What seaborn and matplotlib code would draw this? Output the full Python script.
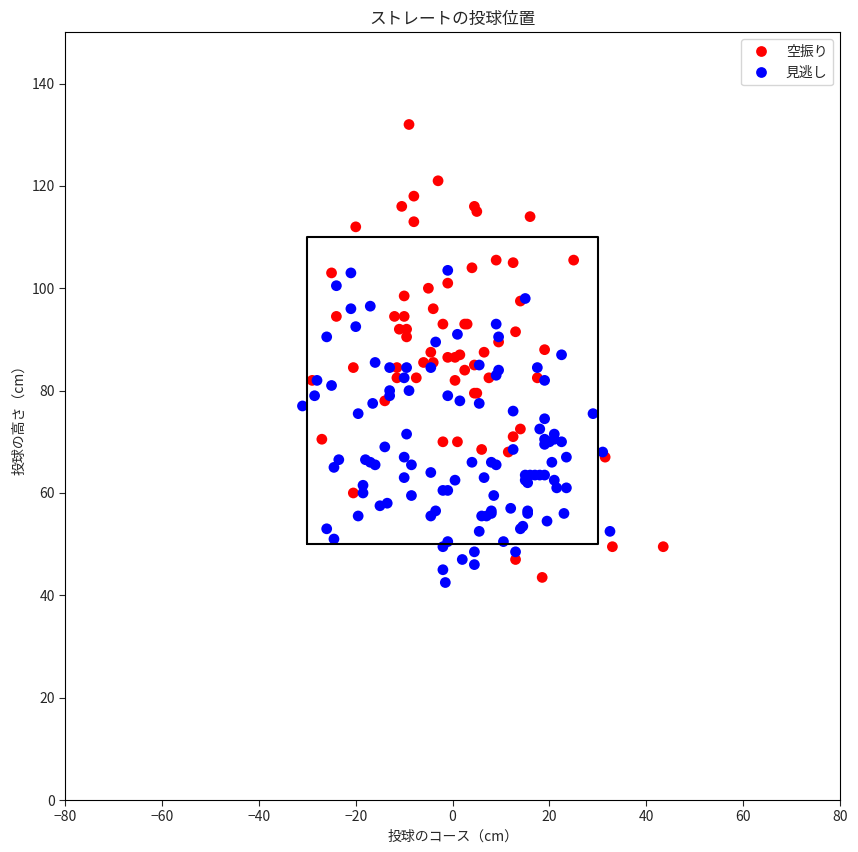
import matplotlib
matplotlib.use("Agg")
import matplotlib.pyplot as plt
import seaborn as sns
import pandas as pd

swing_x = [-9, -3, -8, 4.5, -10.5, 5, 16, -8, -20, -25, 4, 9, 12.5, 25, -24, -10, -12, -10,
           -11, -9.5, -9.5, -5, -4, -1, -2, 2.5, 3, 13, 9.5, 14, -4.5, -1, 0.5, 1.5, 6.5, 4.5,
           -6, -4, 2.5, 19, -20.5, -11.5, -11.5, -7.5, 0.5, 7.5, 17.5, -29, -14, 4.5, 5, -27,
           -2, 1, 12.5, 14, 6, 11.5, 31.5, -20.5, 13, 18.5, 33, 43.5]
swing_y = [132, 121, 118, 116, 116, 115, 114, 113, 112, 103, 104, 105.5, 105, 105.5, 94.5, 98.5,
           94.5, 94.5, 92, 92, 90.5, 100, 96, 101, 93, 93, 93, 91.5, 89.5, 97.5, 87.5, 86.5,
           86.5, 87, 87.5, 85, 85.5, 85.5, 84, 88, 84.5, 84.5, 82.5, 82.5, 82, 82.5, 82.5, 82,
           78, 79.5, 79.5, 70.5, 70, 70, 71, 72.5, 68.5, 68, 67, 60, 47, 43.5, 49.5, 49.5]

look_x = [-31, -28, -28.5, -25, -26, -24, -21, -21, -20, -17, -19.5, -16.5, -16, -13, -13, -13,
          -10, -9.5, -9, -4.5, -3.5, -1, 1, -1, 1.5, 5.5, 5.5, 9, 9.5, 9.5, 9, 15, 17.5, 19,
          12.5, 18, 19, 19, 20, 21, 21, 22.5, 22.5, 29, 31, 19, 20.5, 23.5, -24.5, -23.5, -18,
          -17, -16, -14, -9.5, -10, -8.5, -4.5, -10, -18.5, -18.5, -15, -13.5, -8.5, -4.5,
          -3.5, -2, -1, 0.5, -19.5, -26, -24.5, 4, 8, 9, 6.5, 7, 6, 8, 8, 8.5, 12, 10.5, 14,
          14.5, 5.5, 15, 15, 15.5, 17, 18, 19, 16, 15.5, 15.5, 21, 21.5, 23.5, 23, 19.5, 12.5,
          13, -2, -1, 2, 4.5, 4.5, -2, -1.5, 32.5]
look_y = [77, 82, 79, 81, 90.5, 100.5, 103, 96, 92.5, 96.5, 75.5, 77.5, 85.5, 84.5, 80, 79,
          82.5, 84.5, 80, 84.5, 89.5, 103.5, 91, 79, 78, 77.5, 85, 93, 90.5, 84, 83, 98, 84.5,
          82, 76, 72.5, 74.5, 70.5, 70, 71.5, 70.5, 70, 87, 75.5, 68, 69.5, 66, 67, 65, 66.5,
          66.5, 66, 65.5, 69, 71.5, 67, 65.5, 64, 63, 61.5, 60, 57.5, 58, 59.5, 55.5, 56.5,
          60.5, 60.5, 62.5, 55.5, 53, 51, 66, 66, 65.5, 63, 55.5, 55.5, 56, 56.5, 59.5, 57,
          50.5, 53, 53.5, 52.5, 63.5, 62.5, 62, 63.5, 63.5, 63.5, 63.5, 56.5, 56, 62.5, 61, 61,
          56, 54.5, 68.5, 48.5, 49.5, 50.5, 47, 48.5, 46, 45, 42.5, 52.5]

labels = ["空振り", "見逃し"]
zone_x = [-30, 30]
zone_y = [50, 110]

df = pd.concat([
    pd.DataFrame({"x": swing_x, "y": swing_y, "result": labels[0]}),
    pd.DataFrame({"x": look_x, "y": look_y, "result": labels[1]}),
])

sns.set_style("white")
plt.rcParams["font.family"] = ["Noto Sans CJK JP", "DejaVu Sans"]

fig = plt.figure(figsize=(8.58, 8.52), dpi=100)
ax = fig.add_axes([0.076, 0.061, 0.903, 0.901])
sns.scatterplot(data=df, x="x", y="y", hue="result", palette={labels[0]: "red", labels[1]: "blue"},
                s=60, linewidth=0, ax=ax)
ax.plot([zone_x[0], zone_x[1], zone_x[1], zone_x[0], zone_x[0]],
        [zone_y[0], zone_y[0], zone_y[1], zone_y[1], zone_y[0]], color="black", linewidth=1.5)
ax.set_xlim(-80, 80)
ax.set_ylim(0, 150)
ax.set_title("ストレートの投球位置")
ax.set_xlabel("投球のコース（cm）")
ax.set_ylabel("投球の高さ（cm）")
ax.tick_params(left=True, bottom=True, length=4)
for s in ax.spines.values():
    s.set_color("black")
ax.legend(loc="upper right", title=None)
fig.savefig("out.png", dpi=100)
